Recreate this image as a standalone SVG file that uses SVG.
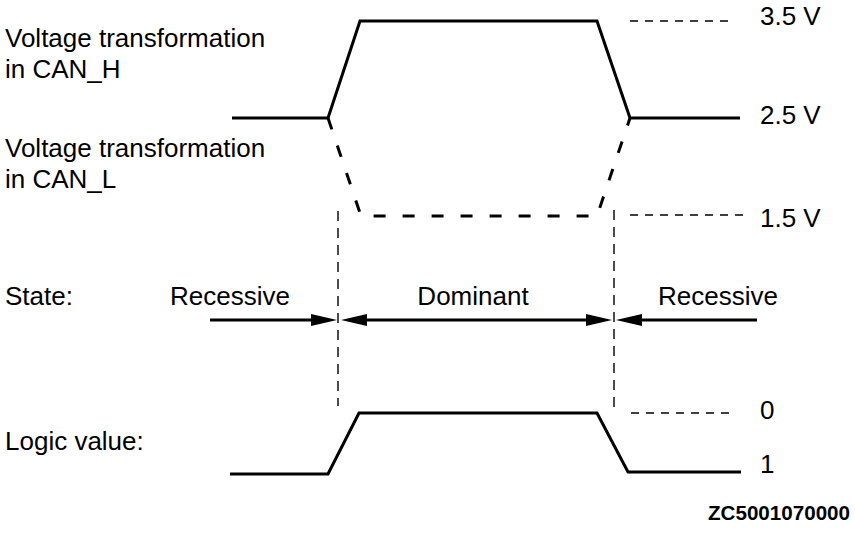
<svg xmlns="http://www.w3.org/2000/svg" width="855" height="534" viewBox="0 0 855 534">
<style>
text{font-family:"Liberation Sans",Arial,Helvetica,sans-serif;font-size:26px;fill:#000}
.sig{fill:none;stroke:#000;stroke-width:3;stroke-linejoin:miter}
.dsig{fill:none;stroke:#000;stroke-width:3;stroke-dasharray:12 17}
.ref{fill:none;stroke:#000;stroke-width:1.4;stroke-dasharray:8 7}
.vref{fill:none;stroke:#000;stroke-width:1.4;stroke-dasharray:10 7}
.arr{fill:none;stroke:#000;stroke-width:3}
.code{font-weight:bold;font-size:20px}
</style>
<defs>
<marker id="ah" markerWidth="26" markerHeight="12" refX="6" refY="6" orient="auto-start-reverse" markerUnits="userSpaceOnUse">
<path d="M0,0 L26,6 L0,12 z" fill="#000"/>
</marker>
</defs>
<rect width="855" height="534" fill="#fff"/>
<g id="labels">
<text x="5" y="47">Voltage transformation</text>
<text x="5" y="78">in CAN_H</text>
<text x="5" y="157">Voltage transformation</text>
<text x="5" y="188">in CAN_L</text>
<text x="5" y="305">State:</text>
<text x="5" y="450">Logic value:</text>
</g>
<g id="can_h"><path class="sig" d="M232,118 L328,118 L360,21 L597,21 L630,118 L740,118"/></g>
<g id="can_l"><path class="dsig" d="M328,118 L361,216 L597,216 L630,118"/></g>
<g id="logic"><path class="sig" d="M230,474 L328,474 L359,413 L597,413 L628,472 L741,472"/></g>
<g id="levels">
<path class="ref" d="M630,21 L732,21"/>
<path class="ref" d="M630,215 L743,215"/>
<path class="ref" d="M631,413 L732,413"/>
<text x="760" y="25">3.5 V</text>
<text x="760" y="124">2.5 V</text>
<text x="760" y="227">1.5 V</text>
<text x="760" y="419">0</text>
<text x="760" y="473">1</text>
</g>
<g id="boundaries">
<path class="vref" d="M338,211 L338,406"/>
<path class="vref" d="M614,210 L614,411"/>
</g>
<g id="states">
<text x="170" y="305">Recessive</text>
<text x="473" y="305" text-anchor="middle">Dominant</text>
<text x="658" y="305">Recessive</text>
</g>
<g id="connectors">
<line class="arr" x1="210" y1="320" x2="317" y2="320" marker-end="url(#ah)"/>
<line class="arr" x1="361" y1="320" x2="592" y2="320" marker-start="url(#ah)" marker-end="url(#ah)"/>
<line class="arr" x1="757" y1="320" x2="636" y2="320" marker-end="url(#ah)"/>
</g>
<text class="code" x="708" y="520" textLength="142" lengthAdjust="spacingAndGlyphs">ZC5001070000</text>
</svg>
